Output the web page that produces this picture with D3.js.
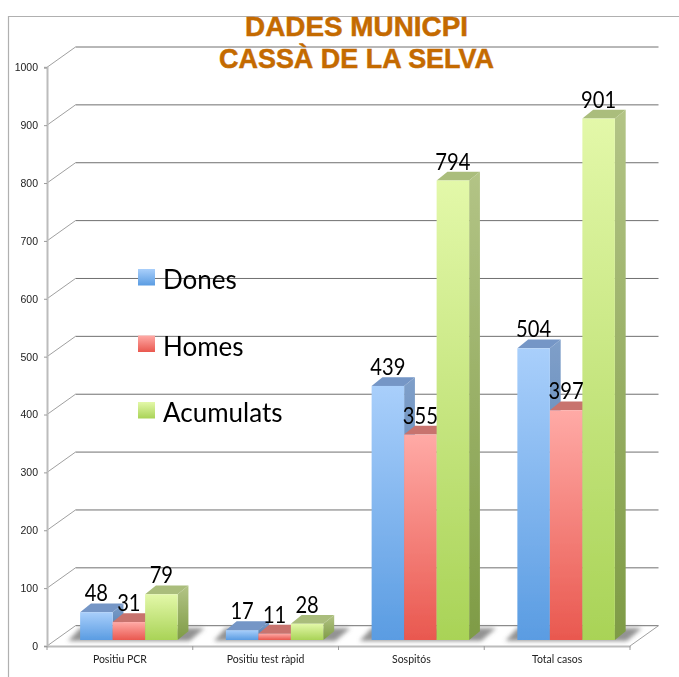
<!DOCTYPE html>
<html>
<head>
<meta charset="utf-8">
<script src="https://cdn.jsdelivr.net/npm/d3@7/dist/d3.min.js"></script>
<style>
  html, body { margin: 0; padding: 0; background: #fff; }
  svg { display: block; }
</style>
</head>
<body>
<svg id="chart" width="679" height="677"></svg>
<script>
var categories = ['Positiu PCR', 'Positiu test ràpid', 'Sospitós', 'Total casos'];
var seriesNames = ['Dones', 'Homes', 'Acumulats'];
var dones = [48, 17, 439, 504];
var homes = [31, 11, 355, 397];
var acumulats = [79, 28, 794, 901];
var yTicks = [0, 100, 200, 300, 400, 500, 600, 700, 800, 900, 1000];
var titleLines = ['DADES MUNICPI', 'CASSÀ DE LA SELVA'];

var seriesValues = [dones, homes, acumulats];
var svg = d3.select('#chart');

var depthX = 28.5, depthY = -20.3;   // wall depth of the 3d box
var barDx = 9, barDy = -6;           // bars stand a bit inside the floor
var sideDx = 10.8, sideDy = -8.8;    // depth of one bar

var x = d3.scaleBand().domain(categories).range([47, 630]).paddingInner(0.331).paddingOuter(0.1655);
var xs = d3.scaleBand().domain(seriesNames).range([0, x.bandwidth()]);
var y = d3.scaleLinear().domain([0, 1000]).range([646, 67.3]);

var palette = {
  Dones:     { front: ['#a9cffb', '#5a9ce2'], side: ['#7f9fc9', '#4676ad'], top: '#7596c6' },
  Homes:     { front: ['#ffaaa6', '#e9584f'], side: ['#c27d78', '#a84a44'], top: '#c8736e' },
  Acumulats: { front: ['#e3f8a9', '#a9d357'], side: ['#b3c486', '#7e9b45'], top: '#aabd7c' }
};

var defs = svg.append('defs');
defs.append('filter').attr('id', 'soft').attr('x', '-10%').attr('y', '-10%').attr('width', '120%').attr('height', '120%')
  .append('feGaussianBlur').attr('stdDeviation', 0.5);
defs.append('filter').attr('id', 'softText').attr('x', '-10%').attr('y', '-10%').attr('width', '120%').attr('height', '120%')
  .append('feGaussianBlur').attr('stdDeviation', 0.3);
defs.append('filter').attr('id', 'shadow').attr('x', '-20%').attr('y', '-40%').attr('width', '140%').attr('height', '180%')
  .append('feGaussianBlur').attr('stdDeviation', 2);

function addGradient(id, stops) {
  var g = defs.append('linearGradient').attr('id', id).attr('x1', 0).attr('y1', 0).attr('x2', 0).attr('y2', 1);
  g.append('stop').attr('offset', '0%').attr('stop-color', stops[0]);
  g.append('stop').attr('offset', '100%').attr('stop-color', stops[1]);
}
seriesNames.forEach(function (name) {
  addGradient('front-' + name, palette[name].front);
  addGradient('side-' + name, palette[name].side);
});

// outer frame, only top and left were visible
svg.append('path').attr('d', 'M679,16.5H8.5V677').attr('fill', 'none').attr('stroke', '#b0b0b0').attr('stroke-width', 1.2);

// walls
var grid = svg.append('g');
grid.selectAll('line.back').data(yTicks).join('line').attr('class', 'back')
  .attr('x1', x.range()[0] + depthX).attr('x2', x.range()[1] + depthX)
  .attr('y1', function (d) { return y(d) + depthY; })
  .attr('y2', function (d) { return y(d) + depthY; })
  .attr('stroke', '#707070').attr('stroke-width', 1);
grid.selectAll('line.wall').data(yTicks).join('line').attr('class', 'wall')
  .attr('x1', x.range()[0]).attr('x2', x.range()[0] + depthX)
  .attr('y1', function (d) { return y(d); })
  .attr('y2', function (d) { return y(d) + depthY; })
  .attr('stroke', '#a0a0a0').attr('stroke-width', 1);
grid.append('line')
  .attr('x1', x.range()[1]).attr('x2', x.range()[1] + depthX)
  .attr('y1', y(0)).attr('y2', y(0) + depthY)
  .attr('stroke', '#a0a0a0');

// y axis
var yAxis = svg.append('g').attr('transform', 'translate(' + x.range()[0] + ',0)')
  .call(d3.axisLeft(y).tickValues(yTicks).tickSize(3).tickPadding(6).tickFormat(d3.format('d')));
yAxis.select('.domain').attr('stroke', '#bcbcbc').attr('stroke-width', 2);
yAxis.selectAll('.tick line').attr('stroke', '#9a9a9a');
yAxis.selectAll('text').attr('fill', '#222').attr('filter', 'url(#softText)').style('font', '10.5px "Liberation Sans", Arial, sans-serif');

// x axis, labels in the band centre, marks on the band edges
var xAxis = svg.append('g').attr('transform', 'translate(0,' + y(0) + ')')
  .call(d3.axisBottom(x).tickSize(0).tickPadding(10));
xAxis.select('.domain').attr('stroke', '#bcbcbc').attr('stroke-width', 2);
xAxis.selectAll('text').attr('fill', '#222').attr('filter', 'url(#softText)').style('font', '10.5px Lato, "Open Sans", sans-serif');
xAxis.selectAll('line.edge').data(d3.range(categories.length + 1)).join('line').attr('class', 'edge')
  .attr('x1', function (i) { return x.range()[0] + i * x.step(); })
  .attr('x2', function (i) { return x.range()[0] + i * x.step(); })
  .attr('y1', 0).attr('y2', 4).attr('stroke', '#9a9a9a');

// shadows on the floor
var shadowBase = y(0) + barDy;
svg.append('g').attr('filter', 'url(#shadow)').selectAll('path').data(categories).join('path')
  .attr('d', function (c) {
    var x0 = x(c) + barDx, x1 = x0 + x.bandwidth();
    return 'M' + (x0 - 12) + ',' + (shadowBase + 1) + 'L' + x0 + ',' + (shadowBase - 12) +
      'L' + (x1 + 27) + ',' + (shadowBase - 12) + 'L' + (x1 + 12) + ',' + (shadowBase + 1) + 'Z';
  })
  .attr('fill', '#6f6f6f').attr('fill-opacity', 0.75);

// bars, back to front inside each group
var barData = [];
categories.forEach(function (c, ci) {
  seriesNames.forEach(function (s, si) {
    barData.push({ category: c, series: s, value: seriesValues[si][ci] });
  });
});
function bx(d) { return x(d.category) + xs(d.series) + barDx; }
function by(v) { return y(v) + barDy; }

var bars = svg.append('g').attr('filter', 'url(#soft)').selectAll('g').data(barData).join('g');
bars.append('path')
  .attr('d', function (d) {
    var r = bx(d) + xs.bandwidth();
    return 'M' + r + ',' + by(d.value) + 'l' + sideDx + ',' + sideDy + 'V' + (by(0) + sideDy) + 'l' + (-sideDx) + ',' + (-sideDy) + 'Z';
  })
  .attr('fill', function (d) { return 'url(#side-' + d.series + ')'; });
bars.append('path')
  .attr('d', function (d) {
    return 'M' + bx(d) + ',' + by(d.value) + 'l' + sideDx + ',' + sideDy + 'h' + xs.bandwidth() + 'l' + (-sideDx) + ',' + (-sideDy) + 'Z';
  })
  .attr('fill', function (d) { return palette[d.series].top; });
bars.append('rect')
  .attr('x', bx)
  .attr('y', function (d) { return by(d.value); })
  .attr('width', xs.bandwidth())
  .attr('height', function (d) { return by(0) - by(d.value); })
  .attr('fill', function (d) { return 'url(#front-' + d.series + ')'; });

// value labels, squeezed a little because Lato digits run wider than the original face
svg.append('g').attr('filter', 'url(#softText)').selectAll('text').data(barData).join('text')
  .attr('x', function (d) { return bx(d) + xs.bandwidth() / 2; })
  .attr('y', function (d) { return by(d.value) - 11; })
  .attr('text-anchor', 'middle')
  .attr('textLength', function (d) { return String(d.value).length * 11.7; })
  .attr('lengthAdjust', 'spacingAndGlyphs')
  .attr('fill', '#000')
  .style('font', '22.5px Lato, "Open Sans", sans-serif')
  .text(function (d) { return d.value; });

// legend
var legendY = d3.scalePoint().domain(seriesNames).range([269, 402]);
var legend = svg.append('g').selectAll('g').data(seriesNames).join('g')
  .attr('transform', function (d) { return 'translate(138,' + legendY(d) + ')'; });
legend.append('rect').attr('width', 17).attr('height', 16.5)
  .attr('fill', function (d) { return 'url(#front-' + d + ')'; });
legend.append('text').attr('x', 25).attr('y', 20)
  .attr('fill', '#000')
  .attr('filter', 'url(#softText)')
  .style('font', '26px Lato, "Open Sans", sans-serif')
  .text(function (d) { return d; });

// title, wide heavy face so it gets stretched
var titleWidth = d3.scaleOrdinal().domain(titleLines).range([223, 275]);
var titleY = d3.scaleOrdinal().domain(titleLines).range([36, 68]);
svg.append('g').selectAll('text').data(titleLines).join('text')
  .attr('x', 356.5)
  .attr('y', function (d) { return titleY(d); })
  .attr('text-anchor', 'middle')
  .attr('textLength', function (d) { return titleWidth(d); })
  .attr('lengthAdjust', 'spacingAndGlyphs')
  .attr('fill', '#c46a00')
  .attr('stroke', '#c46a00')
  .attr('stroke-width', 0.5)
  .style('font', 'bold 27px "Liberation Sans", Arial, sans-serif')
  .text(function (d) { return d; });
</script>
</body>
</html>
